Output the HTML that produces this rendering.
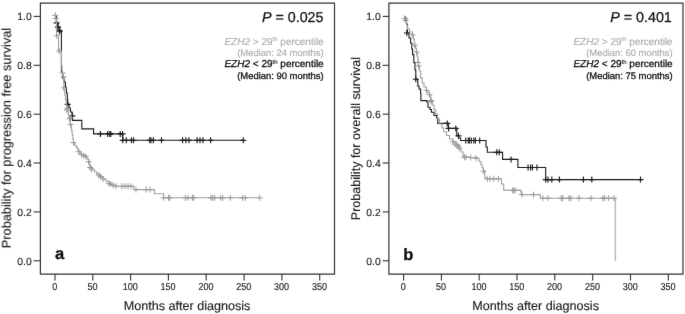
<!DOCTYPE html>
<html><head><meta charset="utf-8"><title>Kaplan-Meier</title>
<style>
html,body{margin:0;padding:0;background:#fff;}
body{width:685px;height:314px;overflow:hidden;}
svg{display:block;font-family:"Liberation Sans",sans-serif;filter:blur(0.35px);text-rendering:geometricPrecision;}
</style></head><body>
<svg width="685" height="314" viewBox="0 0 685 314">
<defs><filter id="soft" x="0" y="0" width="685" height="314" filterUnits="userSpaceOnUse" color-interpolation-filters="sRGB"><feConvolveMatrix order="3" kernelMatrix="0.011 0.044 0.011 0.044 0.78 0.044 0.011 0.044 0.011" edgeMode="duplicate" preserveAlpha="true"/></filter></defs>
<g filter="url(#soft)">
<rect width="685" height="314" fill="#fff"/>
<path d="M40.40 2.45V274.75M334.50 2.45V274.75M39.80 3.05H335.10M39.80 274.15H335.10" fill="none" stroke="#333" stroke-width="1.2"/><path d="M33.7 16.4H40" stroke="#333" stroke-width="1.1"/><text x="31.7" y="20.4" font-size="10.4" stroke="#1c1c1c" stroke-width="0.12" text-anchor="end" fill="#1c1c1c">1.0</text><path d="M33.7 65.3H40" stroke="#333" stroke-width="1.1"/><text x="31.7" y="69.3" font-size="10.4" stroke="#1c1c1c" stroke-width="0.12" text-anchor="end" fill="#1c1c1c">0.8</text><path d="M33.7 114.2H40" stroke="#333" stroke-width="1.1"/><text x="31.7" y="118.2" font-size="10.4" stroke="#1c1c1c" stroke-width="0.12" text-anchor="end" fill="#1c1c1c">0.6</text><path d="M33.7 163.0H40" stroke="#333" stroke-width="1.1"/><text x="31.7" y="167.0" font-size="10.4" stroke="#1c1c1c" stroke-width="0.12" text-anchor="end" fill="#1c1c1c">0.4</text><path d="M33.7 211.9H40" stroke="#333" stroke-width="1.1"/><text x="31.7" y="215.9" font-size="10.4" stroke="#1c1c1c" stroke-width="0.12" text-anchor="end" fill="#1c1c1c">0.2</text><path d="M33.7 260.8H40" stroke="#333" stroke-width="1.1"/><text x="31.7" y="264.8" font-size="10.4" stroke="#1c1c1c" stroke-width="0.12" text-anchor="end" fill="#1c1c1c">0.0</text><path d="M55.0 274V280.4" stroke="#333" stroke-width="1.1"/><text transform="translate(54.7,290.1) scale(0.9,1)" font-size="10" text-anchor="middle" fill="#1c1c1c" stroke="#1c1c1c" stroke-width="0.15">0</text><path d="M92.8 274V280.4" stroke="#333" stroke-width="1.1"/><text transform="translate(92.5,290.1) scale(0.9,1)" font-size="10" text-anchor="middle" fill="#1c1c1c" stroke="#1c1c1c" stroke-width="0.15">50</text><path d="M130.6 274V280.4" stroke="#333" stroke-width="1.1"/><text transform="translate(130.3,290.1) scale(0.9,1)" font-size="10" text-anchor="middle" fill="#1c1c1c" stroke="#1c1c1c" stroke-width="0.15">100</text><path d="M168.4 274V280.4" stroke="#333" stroke-width="1.1"/><text transform="translate(168.1,290.1) scale(0.9,1)" font-size="10" text-anchor="middle" fill="#1c1c1c" stroke="#1c1c1c" stroke-width="0.15">150</text><path d="M206.2 274V280.4" stroke="#333" stroke-width="1.1"/><text transform="translate(205.9,290.1) scale(0.9,1)" font-size="10" text-anchor="middle" fill="#1c1c1c" stroke="#1c1c1c" stroke-width="0.15">200</text><path d="M244.1 274V280.4" stroke="#333" stroke-width="1.1"/><text transform="translate(243.8,290.1) scale(0.9,1)" font-size="10" text-anchor="middle" fill="#1c1c1c" stroke="#1c1c1c" stroke-width="0.15">250</text><path d="M281.9 274V280.4" stroke="#333" stroke-width="1.1"/><text transform="translate(281.6,290.1) scale(0.9,1)" font-size="10" text-anchor="middle" fill="#1c1c1c" stroke="#1c1c1c" stroke-width="0.15">300</text><path d="M319.7 274V280.4" stroke="#333" stroke-width="1.1"/><text transform="translate(319.4,290.1) scale(0.9,1)" font-size="10" text-anchor="middle" fill="#1c1c1c" stroke="#1c1c1c" stroke-width="0.15">350</text><text x="187.0" y="309.5" font-size="12.6" text-anchor="middle" fill="#1c1c1c" stroke="#1c1c1c" stroke-width="0.15">Months after diagnosis</text><text transform="translate(10.7,138) rotate(-90)" font-size="12.75" text-anchor="middle" fill="#1c1c1c" stroke="#1c1c1c" stroke-width="0.15">Probability for progression free survival</text><text x="55" y="259.3" font-size="16.5" font-weight="bold" fill="#111" stroke="#111" stroke-width="0.3">a</text><text x="323.5" y="22.1" font-size="14.3" text-anchor="end" fill="#111" stroke="#111" stroke-width="0.25"><tspan font-style="italic">P</tspan> = 0.025</text><text x="323.7" y="44.5" font-size="10" text-anchor="end" fill="#ababab" stroke="#ababab" stroke-width="0.15"><tspan font-style="italic">EZH2</tspan> &gt; 29<tspan font-size="6" dy="-3.2" stroke-width="0.1">th</tspan><tspan dy="3.2"> percentile</tspan></text><text x="323.7" y="55.5" font-size="9.45" text-anchor="end" fill="#ababab" stroke="#ababab" stroke-width="0.15">(Median: 24 months)</text><text x="323.7" y="67.4" font-size="10" text-anchor="end" fill="#111" stroke="#111" stroke-width="0.3"><tspan font-style="italic">EZH2</tspan> &lt; 29<tspan font-size="6" dy="-3.2" stroke-width="0.1">th</tspan><tspan dy="3.2"> percentile</tspan></text><text x="323.7" y="78.9" font-size="9.45" text-anchor="end" fill="#111" stroke="#111" stroke-width="0.3">(Median: 90 months)</text><path d="M55.3 16.4H56.6V23.0H58.0V27.0H59.5V31.0H61.4V72.0H62.5V78.0H64.0V82.0H65.4V87.0H66.4V93.0H67.3V99.0H67.7V104.4H69.0V108.0H70.5V112.0H72.1V116.0H72.6V120.4H81.8V120.4H81.8V128.9H93.6V128.9H93.6V133.9H122.8V133.9H122.8V140.3H243.3V140.3" stroke="#1a1a1a" stroke-width="1.1" fill="none"/><path d="M56.6 19.9V25.9M53.6 22.9H59.6" stroke="#1a1a1a" stroke-width="1.15" fill="none"/><path d="M58.0 24.1V30.1M55.0 27.1H61.0" stroke="#1a1a1a" stroke-width="1.15" fill="none"/><path d="M59.3 27.2V33.2M56.3 30.2H62.3" stroke="#1a1a1a" stroke-width="1.15" fill="none"/><path d="M59.8 28.2V34.2M56.8 31.2H62.8" stroke="#1a1a1a" stroke-width="1.15" fill="none"/><path d="M67.7 101.4V107.4M64.7 104.4H70.7" stroke="#1a1a1a" stroke-width="1.15" fill="none"/><path d="M72.3 112.8V118.8M69.3 115.8H75.3" stroke="#1a1a1a" stroke-width="1.15" fill="none"/><path d="M100.4 130.9V136.9M97.4 133.9H103.4" stroke="#1a1a1a" stroke-width="1.15" fill="none"/><path d="M107.7 130.9V136.9M104.7 133.9H110.7" stroke="#1a1a1a" stroke-width="1.15" fill="none"/><path d="M109.8 130.9V136.9M106.8 133.9H112.8" stroke="#1a1a1a" stroke-width="1.15" fill="none"/><path d="M110.8 130.9V136.9M107.8 133.9H113.8" stroke="#1a1a1a" stroke-width="1.15" fill="none"/><path d="M120.2 130.9V136.9M117.2 133.9H123.2" stroke="#1a1a1a" stroke-width="1.15" fill="none"/><path d="M122.5 130.9V136.9M119.5 133.9H125.5" stroke="#1a1a1a" stroke-width="1.15" fill="none"/><path d="M122.8 137.3V143.3M119.8 140.3H125.8" stroke="#1a1a1a" stroke-width="1.15" fill="none"/><path d="M126.3 137.3V143.3M123.3 140.3H129.3" stroke="#1a1a1a" stroke-width="1.15" fill="none"/><path d="M131.4 137.3V143.3M128.4 140.3H134.4" stroke="#1a1a1a" stroke-width="1.15" fill="none"/><path d="M133.5 137.3V143.3M130.5 140.3H136.5" stroke="#1a1a1a" stroke-width="1.15" fill="none"/><path d="M149.8 137.3V143.3M146.8 140.3H152.8" stroke="#1a1a1a" stroke-width="1.15" fill="none"/><path d="M150.9 137.3V143.3M147.9 140.3H153.9" stroke="#1a1a1a" stroke-width="1.15" fill="none"/><path d="M153.3 137.3V143.3M150.3 140.3H156.3" stroke="#1a1a1a" stroke-width="1.15" fill="none"/><path d="M161.5 137.3V143.3M158.5 140.3H164.5" stroke="#1a1a1a" stroke-width="1.15" fill="none"/><path d="M182.6 137.3V143.3M179.6 140.3H185.6" stroke="#1a1a1a" stroke-width="1.15" fill="none"/><path d="M185.9 137.3V143.3M182.9 140.3H188.9" stroke="#1a1a1a" stroke-width="1.15" fill="none"/><path d="M189.0 137.3V143.3M186.0 140.3H192.0" stroke="#1a1a1a" stroke-width="1.15" fill="none"/><path d="M197.1 137.3V143.3M194.1 140.3H200.1" stroke="#1a1a1a" stroke-width="1.15" fill="none"/><path d="M200.0 137.3V143.3M197.0 140.3H203.0" stroke="#1a1a1a" stroke-width="1.15" fill="none"/><path d="M203.0 137.3V143.3M200.0 140.3H206.0" stroke="#1a1a1a" stroke-width="1.15" fill="none"/><path d="M210.6 137.3V143.3M207.6 140.3H213.6" stroke="#1a1a1a" stroke-width="1.15" fill="none"/><path d="M243.3 137.3V143.3M240.3 140.3H246.3" stroke="#1a1a1a" stroke-width="1.15" fill="none"/><path d="M55.3 16.4H55.7V18.5H56.5V35.0H58.5V52.0H61.5V66.0H62.0V72.0H62.5V75.0H63.5V82.0H63.9V90.0H64.8V95.0H65.6V100.0H66.3V105.0H66.9V110.0H68.3V115.5H69.5V118.7H70.4V124.4H71.3V130.0H72.1V134.5H72.8V139.0H73.5V143.1H74.8V145.5H76.2V147.4H77.6V149.8H78.9V151.7H80.0V153.2H81.5V154.5H83.5V155.6H85.8V156.6H87.3V159.3H88.7V161.7H89.4V164.6H90.1V167.5H92.2V169.8H94.5V171.8H96.6V173.6H98.8V175.2H101.0V177.2H103.1V179.0H106.0V181.2H108.8V183.3H111.0V184.4H113.1V185.3H115.0V186.2H132.6V186.2H133.9V189.6H154.0V189.6H154.5V193.8H163.4V193.8H163.6V197.8H259.7V197.8" stroke="#a0a0a0" stroke-width="1.1" fill="none"/><path d="M55.3 12.3V18.3M52.3 15.3H58.3" stroke="#9a9a9a" stroke-width="1.0" fill="none"/><path d="M55.7 15.5V21.5M52.7 18.5H58.7" stroke="#9a9a9a" stroke-width="1.0" fill="none"/><path d="M56.6 32.8V38.8M53.6 35.8H59.6" stroke="#9a9a9a" stroke-width="1.0" fill="none"/><path d="M59.1 48.0V54.0M56.1 51.0H62.1" stroke="#9a9a9a" stroke-width="1.0" fill="none"/><path d="M62.5 70.0V76.0M59.5 73.0H65.5" stroke="#9a9a9a" stroke-width="1.0" fill="none"/><path d="M63.5 73.8V79.8M60.5 76.8H66.5" stroke="#9a9a9a" stroke-width="1.0" fill="none"/><path d="M63.9 84.8V90.8M60.9 87.8H66.9" stroke="#9a9a9a" stroke-width="1.0" fill="none"/><path d="M66.9 107.1V113.1M63.9 110.1H69.9" stroke="#9a9a9a" stroke-width="1.0" fill="none"/><path d="M67.2 105.6V111.6M64.2 108.6H70.2" stroke="#9a9a9a" stroke-width="1.0" fill="none"/><path d="M69.4 115.7V121.7M66.4 118.7H72.4" stroke="#9a9a9a" stroke-width="1.0" fill="none"/><path d="M70.4 121.4V127.4M67.4 124.4H73.4" stroke="#9a9a9a" stroke-width="1.0" fill="none"/><path d="M71.1 114.4V120.4M68.1 117.4H74.1" stroke="#9a9a9a" stroke-width="1.0" fill="none"/><path d="M73.5 139.6V145.6M70.5 142.6H76.5" stroke="#9a9a9a" stroke-width="1.0" fill="none"/><path d="M78.7 148.7V154.7M75.7 151.7H81.7" stroke="#9a9a9a" stroke-width="1.0" fill="none"/><path d="M81.5 151.5V157.5M78.5 154.5H84.5" stroke="#9a9a9a" stroke-width="1.0" fill="none"/><path d="M83.8 152.7V158.7M80.8 155.7H86.8" stroke="#9a9a9a" stroke-width="1.0" fill="none"/><path d="M85.8 153.6V159.6M82.8 156.6H88.8" stroke="#9a9a9a" stroke-width="1.0" fill="none"/><path d="M88.7 158.7V164.7M85.7 161.7H91.7" stroke="#9a9a9a" stroke-width="1.0" fill="none"/><path d="M90.1 164.5V170.5M87.1 167.5H93.1" stroke="#9a9a9a" stroke-width="1.0" fill="none"/><path d="M91.5 166.0V172.0M88.5 169.0H94.5" stroke="#9a9a9a" stroke-width="1.0" fill="none"/><path d="M98.8 172.2V178.2M95.8 175.2H101.8" stroke="#9a9a9a" stroke-width="1.0" fill="none"/><path d="M100.5 173.6V179.6M97.5 176.6H103.5" stroke="#9a9a9a" stroke-width="1.0" fill="none"/><path d="M103.1 176.0V182.0M100.1 179.0H106.1" stroke="#9a9a9a" stroke-width="1.0" fill="none"/><path d="M108.8 180.3V186.3M105.8 183.3H111.8" stroke="#9a9a9a" stroke-width="1.0" fill="none"/><path d="M110.5 181.2V187.2M107.5 184.2H113.5" stroke="#9a9a9a" stroke-width="1.0" fill="none"/><path d="M113.1 182.3V188.3M110.1 185.3H116.1" stroke="#9a9a9a" stroke-width="1.0" fill="none"/><path d="M116.0 183.2V189.2M113.0 186.2H119.0" stroke="#9a9a9a" stroke-width="1.0" fill="none"/><path d="M122.0 183.2V189.2M119.0 186.2H125.0" stroke="#9a9a9a" stroke-width="1.0" fill="none"/><path d="M125.0 183.2V189.2M122.0 186.2H128.0" stroke="#9a9a9a" stroke-width="1.0" fill="none"/><path d="M128.0 183.2V189.2M125.0 186.2H131.0" stroke="#9a9a9a" stroke-width="1.0" fill="none"/><path d="M131.0 183.2V189.2M128.0 186.2H134.0" stroke="#9a9a9a" stroke-width="1.0" fill="none"/><path d="M136.0 186.6V192.6M133.0 189.6H139.0" stroke="#9a9a9a" stroke-width="1.0" fill="none"/><path d="M146.2 186.6V192.6M143.2 189.6H149.2" stroke="#9a9a9a" stroke-width="1.0" fill="none"/><path d="M150.0 186.6V192.6M147.0 189.6H153.0" stroke="#9a9a9a" stroke-width="1.0" fill="none"/><path d="M163.6 194.8V200.8M160.6 197.8H166.6" stroke="#9a9a9a" stroke-width="1.0" fill="none"/><path d="M168.5 194.8V200.8M165.5 197.8H171.5" stroke="#9a9a9a" stroke-width="1.0" fill="none"/><path d="M169.8 194.8V200.8M166.8 197.8H172.8" stroke="#9a9a9a" stroke-width="1.0" fill="none"/><path d="M185.3 194.8V200.8M182.3 197.8H188.3" stroke="#9a9a9a" stroke-width="1.0" fill="none"/><path d="M187.9 194.8V200.8M184.9 197.8H190.9" stroke="#9a9a9a" stroke-width="1.0" fill="none"/><path d="M192.4 194.8V200.8M189.4 197.8H195.4" stroke="#9a9a9a" stroke-width="1.0" fill="none"/><path d="M193.6 194.8V200.8M190.6 197.8H196.6" stroke="#9a9a9a" stroke-width="1.0" fill="none"/><path d="M210.9 194.8V200.8M207.9 197.8H213.9" stroke="#9a9a9a" stroke-width="1.0" fill="none"/><path d="M212.7 194.8V200.8M209.7 197.8H215.7" stroke="#9a9a9a" stroke-width="1.0" fill="none"/><path d="M214.7 194.8V200.8M211.7 197.8H217.7" stroke="#9a9a9a" stroke-width="1.0" fill="none"/><path d="M220.7 194.8V200.8M217.7 197.8H223.7" stroke="#9a9a9a" stroke-width="1.0" fill="none"/><path d="M222.7 194.8V200.8M219.7 197.8H225.7" stroke="#9a9a9a" stroke-width="1.0" fill="none"/><path d="M230.3 194.8V200.8M227.3 197.8H233.3" stroke="#9a9a9a" stroke-width="1.0" fill="none"/><path d="M242.5 194.8V200.8M239.5 197.8H245.5" stroke="#9a9a9a" stroke-width="1.0" fill="none"/><path d="M245.2 194.8V200.8M242.2 197.8H248.2" stroke="#9a9a9a" stroke-width="1.0" fill="none"/><path d="M259.7 194.8V200.8M256.7 197.8H262.7" stroke="#9a9a9a" stroke-width="1.0" fill="none"/><path d="M388.90 2.45V274.75M683.00 2.45V274.75M388.30 3.05H683.60M388.30 274.15H683.60" fill="none" stroke="#333" stroke-width="1.2"/><path d="M382.7 16.4H389" stroke="#333" stroke-width="1.1"/><text x="380.7" y="20.4" font-size="10.4" stroke="#1c1c1c" stroke-width="0.12" text-anchor="end" fill="#1c1c1c">1.0</text><path d="M382.7 65.3H389" stroke="#333" stroke-width="1.1"/><text x="380.7" y="69.3" font-size="10.4" stroke="#1c1c1c" stroke-width="0.12" text-anchor="end" fill="#1c1c1c">0.8</text><path d="M382.7 114.2H389" stroke="#333" stroke-width="1.1"/><text x="380.7" y="118.2" font-size="10.4" stroke="#1c1c1c" stroke-width="0.12" text-anchor="end" fill="#1c1c1c">0.6</text><path d="M382.7 163.0H389" stroke="#333" stroke-width="1.1"/><text x="380.7" y="167.0" font-size="10.4" stroke="#1c1c1c" stroke-width="0.12" text-anchor="end" fill="#1c1c1c">0.4</text><path d="M382.7 211.9H389" stroke="#333" stroke-width="1.1"/><text x="380.7" y="215.9" font-size="10.4" stroke="#1c1c1c" stroke-width="0.12" text-anchor="end" fill="#1c1c1c">0.2</text><path d="M382.7 260.8H389" stroke="#333" stroke-width="1.1"/><text x="380.7" y="264.8" font-size="10.4" stroke="#1c1c1c" stroke-width="0.12" text-anchor="end" fill="#1c1c1c">0.0</text><path d="M403.6 274V280.4" stroke="#333" stroke-width="1.1"/><text transform="translate(403.3,290.1) scale(0.9,1)" font-size="10" text-anchor="middle" fill="#1c1c1c" stroke="#1c1c1c" stroke-width="0.15">0</text><path d="M441.4 274V280.4" stroke="#333" stroke-width="1.1"/><text transform="translate(441.1,290.1) scale(0.9,1)" font-size="10" text-anchor="middle" fill="#1c1c1c" stroke="#1c1c1c" stroke-width="0.15">50</text><path d="M479.2 274V280.4" stroke="#333" stroke-width="1.1"/><text transform="translate(478.9,290.1) scale(0.9,1)" font-size="10" text-anchor="middle" fill="#1c1c1c" stroke="#1c1c1c" stroke-width="0.15">100</text><path d="M517.0 274V280.4" stroke="#333" stroke-width="1.1"/><text transform="translate(516.7,290.1) scale(0.9,1)" font-size="10" text-anchor="middle" fill="#1c1c1c" stroke="#1c1c1c" stroke-width="0.15">150</text><path d="M554.8 274V280.4" stroke="#333" stroke-width="1.1"/><text transform="translate(554.5,290.1) scale(0.9,1)" font-size="10" text-anchor="middle" fill="#1c1c1c" stroke="#1c1c1c" stroke-width="0.15">200</text><path d="M592.7 274V280.4" stroke="#333" stroke-width="1.1"/><text transform="translate(592.4,290.1) scale(0.9,1)" font-size="10" text-anchor="middle" fill="#1c1c1c" stroke="#1c1c1c" stroke-width="0.15">250</text><path d="M630.5 274V280.4" stroke="#333" stroke-width="1.1"/><text transform="translate(630.2,290.1) scale(0.9,1)" font-size="10" text-anchor="middle" fill="#1c1c1c" stroke="#1c1c1c" stroke-width="0.15">300</text><path d="M668.3 274V280.4" stroke="#333" stroke-width="1.1"/><text transform="translate(668.0,290.1) scale(0.9,1)" font-size="10" text-anchor="middle" fill="#1c1c1c" stroke="#1c1c1c" stroke-width="0.15">350</text><text x="535.6" y="309.5" font-size="12.6" text-anchor="middle" fill="#1c1c1c" stroke="#1c1c1c" stroke-width="0.15">Months after diagnosis</text><text transform="translate(359.7,138.6) rotate(-90)" font-size="12.55" text-anchor="middle" fill="#1c1c1c" stroke="#1c1c1c" stroke-width="0.15">Probability for overall survival</text><text x="403.3" y="260.0" font-size="16.5" font-weight="bold" fill="#111" stroke="#111" stroke-width="0.3">b</text><text x="671.8" y="22.1" font-size="14.3" text-anchor="end" fill="#111" stroke="#111" stroke-width="0.25"><tspan font-style="italic">P</tspan> = 0.401</text><text x="672.6999999999999" y="44.5" font-size="10" text-anchor="end" fill="#ababab" stroke="#ababab" stroke-width="0.15"><tspan font-style="italic">EZH2</tspan> &gt; 29<tspan font-size="6" dy="-3.2" stroke-width="0.1">th</tspan><tspan dy="3.2"> percentile</tspan></text><text x="672.6999999999999" y="55.5" font-size="9.45" text-anchor="end" fill="#ababab" stroke="#ababab" stroke-width="0.15">(Median: 60 months)</text><text x="672.6999999999999" y="67.4" font-size="10" text-anchor="end" fill="#111" stroke="#111" stroke-width="0.3"><tspan font-style="italic">EZH2</tspan> &lt; 29<tspan font-size="6" dy="-3.2" stroke-width="0.1">th</tspan><tspan dy="3.2"> percentile</tspan></text><text x="672.6999999999999" y="78.9" font-size="9.45" text-anchor="end" fill="#111" stroke="#111" stroke-width="0.3">(Median: 75 months)</text><path d="M404.0 16.6H405.0V18.0H406.5V24.0H407.4V33.0H409.0V38.0H410.6V43.2H411.8V49.0H412.6V54.6H413.8V62.6H415.0V70.0H415.8V79.2H417.8V86.0H419.0V89.0H420.6V93.2H420.9V100.6H426.6V101.8H428.0V107.3H430.0V109.5H431.4V112.3H434.0V115.5H436.7V118.2H437.8V123.4H448.0V123.4H448.3V128.4H456.2V128.4H456.8V135.8H458.5V138.0H460.6V140.5H484.8V140.5H486.0V147.0H487.3V152.3H502.1V152.3H502.6V159.4H517.9V159.4H517.9V167.5H545.7V167.5H545.7V179.6H641.5V179.6" stroke="#1a1a1a" stroke-width="1.1" fill="none"/><path d="M406.8 30.0V36.0M403.8 33.0H409.8" stroke="#1a1a1a" stroke-width="1.15" fill="none"/><path d="M415.8 76.2V82.2M412.8 79.2H418.8" stroke="#1a1a1a" stroke-width="1.15" fill="none"/><path d="M447.3 120.4V126.4M444.3 123.4H450.3" stroke="#1a1a1a" stroke-width="1.15" fill="none"/><path d="M448.6 125.4V131.4M445.6 128.4H451.6" stroke="#1a1a1a" stroke-width="1.15" fill="none"/><path d="M455.8 125.4V131.4M452.8 128.4H458.8" stroke="#1a1a1a" stroke-width="1.15" fill="none"/><path d="M458.5 132.8V138.8M455.5 135.8H461.5" stroke="#1a1a1a" stroke-width="1.15" fill="none"/><path d="M465.7 137.5V143.5M462.7 140.5H468.7" stroke="#1a1a1a" stroke-width="1.15" fill="none"/><path d="M468.2 137.5V143.5M465.2 140.5H471.2" stroke="#1a1a1a" stroke-width="1.15" fill="none"/><path d="M469.5 137.5V143.5M466.5 140.5H472.5" stroke="#1a1a1a" stroke-width="1.15" fill="none"/><path d="M471.3 137.5V143.5M468.3 140.5H474.3" stroke="#1a1a1a" stroke-width="1.15" fill="none"/><path d="M473.8 137.5V143.5M470.8 140.5H476.8" stroke="#1a1a1a" stroke-width="1.15" fill="none"/><path d="M475.4 137.5V143.5M472.4 140.5H478.4" stroke="#1a1a1a" stroke-width="1.15" fill="none"/><path d="M479.7 137.5V143.5M476.7 140.5H482.7" stroke="#1a1a1a" stroke-width="1.15" fill="none"/><path d="M496.8 149.3V155.3M493.8 152.3H499.8" stroke="#1a1a1a" stroke-width="1.15" fill="none"/><path d="M499.3 149.3V155.3M496.3 152.3H502.3" stroke="#1a1a1a" stroke-width="1.15" fill="none"/><path d="M511.0 156.4V162.4M508.0 159.4H514.0" stroke="#1a1a1a" stroke-width="1.15" fill="none"/><path d="M528.1 164.5V170.5M525.1 167.5H531.1" stroke="#1a1a1a" stroke-width="1.15" fill="none"/><path d="M530.6 164.5V170.5M527.6 167.5H533.6" stroke="#1a1a1a" stroke-width="1.15" fill="none"/><path d="M532.4 164.5V170.5M529.4 167.5H535.4" stroke="#1a1a1a" stroke-width="1.15" fill="none"/><path d="M537.0 164.5V170.5M534.0 167.5H540.0" stroke="#1a1a1a" stroke-width="1.15" fill="none"/><path d="M545.7 176.6V182.6M542.7 179.6H548.7" stroke="#1a1a1a" stroke-width="1.15" fill="none"/><path d="M548.0 176.6V182.6M545.0 179.6H551.0" stroke="#1a1a1a" stroke-width="1.15" fill="none"/><path d="M551.8 176.6V182.6M548.8 179.6H554.8" stroke="#1a1a1a" stroke-width="1.15" fill="none"/><path d="M559.4 176.6V182.6M556.4 179.6H562.4" stroke="#1a1a1a" stroke-width="1.15" fill="none"/><path d="M583.4 176.6V182.6M580.4 179.6H586.4" stroke="#1a1a1a" stroke-width="1.15" fill="none"/><path d="M591.8 176.6V182.6M588.8 179.6H594.8" stroke="#1a1a1a" stroke-width="1.15" fill="none"/><path d="M640.5 176.6V182.6M637.5 179.6H643.5" stroke="#1a1a1a" stroke-width="1.15" fill="none"/><path d="M404.0 16.6H404.7V18.5H405.7V20.4H406.6V25.2H407.6V29.0H409.5V32.0H412.4V34.8H413.3V39.0H414.3V45.3H415.5V48.0H416.2V52.0H417.2V57.0H418.1V62.5H418.5V66.0H419.4V71.0H420.6V77.9H422.2V83.0H424.0V87.0H426.5V90.5H428.0V92.5H429.4V94.8H430.8V100.4H432.3V105.0H434.0V109.8H435.8V114.0H437.6V118.7H439.5V124.0H442.0V128.0H443.8V131.8H446.5V135.5H449.5V139.0H452.9V141.8H456.0V145.0H459.3V148.2H461.0V152.0H463.1V157.1H470.0V157.5H477.1V158.4H479.0V161.5H481.0V164.8H482.2V168.0H483.5V171.1H484.8V177.5H485.7V178.8H499.9V178.8H501.5V184.0H503.7V190.1H520.1V190.6H521.2V194.6H539.2V194.6H540.3V198.2H615.4V198.2" stroke="#a0a0a0" stroke-width="1.1" fill="none"/><path d="M615.4 198.2V260.8" stroke="#b8b8b8" stroke-width="1.5" fill="none"/><path d="M404.7 15.5V21.5M401.7 18.5H407.7" stroke="#9a9a9a" stroke-width="1.0" fill="none"/><path d="M405.7 17.4V23.4M402.7 20.4H408.7" stroke="#9a9a9a" stroke-width="1.0" fill="none"/><path d="M412.4 31.8V37.8M409.4 34.8H415.4" stroke="#9a9a9a" stroke-width="1.0" fill="none"/><path d="M414.8 42.3V48.3M411.8 45.3H417.8" stroke="#9a9a9a" stroke-width="1.0" fill="none"/><path d="M416.6 49.0V55.0M413.6 52.0H419.6" stroke="#9a9a9a" stroke-width="1.0" fill="none"/><path d="M418.1 59.5V65.5M415.1 62.5H421.1" stroke="#9a9a9a" stroke-width="1.0" fill="none"/><path d="M418.6 63.0V69.0M415.6 66.0H421.6" stroke="#9a9a9a" stroke-width="1.0" fill="none"/><path d="M426.5 87.3V93.3M423.5 90.3H429.5" stroke="#9a9a9a" stroke-width="1.0" fill="none"/><path d="M429.4 91.6V97.6M426.4 94.6H432.4" stroke="#9a9a9a" stroke-width="1.0" fill="none"/><path d="M430.8 97.4V103.4M427.8 100.4H433.8" stroke="#9a9a9a" stroke-width="1.0" fill="none"/><path d="M431.2 98.5V104.5M428.2 101.5H434.2" stroke="#9a9a9a" stroke-width="1.0" fill="none"/><path d="M452.9 138.8V144.8M449.9 141.8H455.9" stroke="#9a9a9a" stroke-width="1.0" fill="none"/><path d="M455.0 141.0V147.0M452.0 144.0H458.0" stroke="#9a9a9a" stroke-width="1.0" fill="none"/><path d="M456.7 141.9V147.9M453.7 144.9H459.7" stroke="#9a9a9a" stroke-width="1.0" fill="none"/><path d="M458.3 143.4V149.4M455.3 146.4H461.3" stroke="#9a9a9a" stroke-width="1.0" fill="none"/><path d="M459.3 145.2V151.2M456.3 148.2H462.3" stroke="#9a9a9a" stroke-width="1.0" fill="none"/><path d="M464.4 154.1V160.1M461.4 157.1H467.4" stroke="#9a9a9a" stroke-width="1.0" fill="none"/><path d="M466.0 154.3V160.3M463.0 157.3H469.0" stroke="#9a9a9a" stroke-width="1.0" fill="none"/><path d="M470.8 154.6V160.6M467.8 157.6H473.8" stroke="#9a9a9a" stroke-width="1.0" fill="none"/><path d="M475.9 155.2V161.2M472.9 158.2H478.9" stroke="#9a9a9a" stroke-width="1.0" fill="none"/><path d="M483.5 168.1V174.1M480.5 171.1H486.5" stroke="#9a9a9a" stroke-width="1.0" fill="none"/><path d="M487.3 175.8V181.8M484.3 178.8H490.3" stroke="#9a9a9a" stroke-width="1.0" fill="none"/><path d="M489.9 175.8V181.8M486.9 178.8H492.9" stroke="#9a9a9a" stroke-width="1.0" fill="none"/><path d="M493.7 175.8V181.8M490.7 178.8H496.7" stroke="#9a9a9a" stroke-width="1.0" fill="none"/><path d="M498.3 175.8V181.8M495.3 178.8H501.3" stroke="#9a9a9a" stroke-width="1.0" fill="none"/><path d="M512.8 187.4V193.4M509.8 190.4H515.8" stroke="#9a9a9a" stroke-width="1.0" fill="none"/><path d="M513.6 187.4V193.4M510.6 190.4H516.6" stroke="#9a9a9a" stroke-width="1.0" fill="none"/><path d="M515.1 187.4V193.4M512.1 190.4H518.1" stroke="#9a9a9a" stroke-width="1.0" fill="none"/><path d="M522.0 191.6V197.6M519.0 194.6H525.0" stroke="#9a9a9a" stroke-width="1.0" fill="none"/><path d="M533.5 191.6V197.6M530.5 194.6H536.5" stroke="#9a9a9a" stroke-width="1.0" fill="none"/><path d="M543.0 195.2V201.2M540.0 198.2H546.0" stroke="#9a9a9a" stroke-width="1.0" fill="none"/><path d="M548.0 195.2V201.2M545.0 198.2H551.0" stroke="#9a9a9a" stroke-width="1.0" fill="none"/><path d="M561.3 195.2V201.2M558.3 198.2H564.3" stroke="#9a9a9a" stroke-width="1.0" fill="none"/><path d="M562.7 195.2V201.2M559.7 198.2H565.7" stroke="#9a9a9a" stroke-width="1.0" fill="none"/><path d="M568.9 195.2V201.2M565.9 198.2H571.9" stroke="#9a9a9a" stroke-width="1.0" fill="none"/><path d="M570.7 195.2V201.2M567.7 198.2H573.7" stroke="#9a9a9a" stroke-width="1.0" fill="none"/><path d="M579.1 195.2V201.2M576.1 198.2H582.1" stroke="#9a9a9a" stroke-width="1.0" fill="none"/><path d="M591.1 195.2V201.2M588.1 198.2H594.1" stroke="#9a9a9a" stroke-width="1.0" fill="none"/><path d="M602.8 195.2V201.2M599.8 198.2H605.8" stroke="#9a9a9a" stroke-width="1.0" fill="none"/><path d="M604.4 195.2V201.2M601.4 198.2H607.4" stroke="#9a9a9a" stroke-width="1.0" fill="none"/><path d="M608.4 195.2V201.2M605.4 198.2H611.4" stroke="#9a9a9a" stroke-width="1.0" fill="none"/><path d="M614.0 195.2V201.2M611.0 198.2H617.0" stroke="#9a9a9a" stroke-width="1.0" fill="none"/>
</g>
</svg>
</body></html>
